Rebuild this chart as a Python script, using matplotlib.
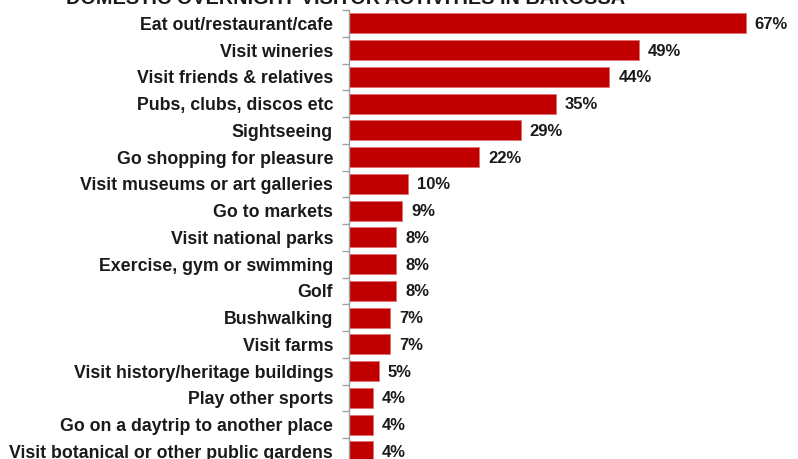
import numpy as np
import matplotlib.pyplot as plt

activities = [
    "Eat out/restaurant/cafe",
    "Visit wineries",
    "Visit friends & relatives",
    "Pubs, clubs, discos etc",
    "Sightseeing",
    "Go shopping for pleasure",
    "Visit museums or art galleries",
    "Go to markets",
    "Visit national parks",
    "Exercise, gym or swimming",
    "Golf",
    "Bushwalking",
    "Visit farms",
    "Visit history/heritage buildings",
    "Play other sports",
    "Go on a daytrip to another place",
    "Visit botanical or other public gardens",
]
share = [67, 49, 44, 35, 29, 22, 10, 9, 8, 8, 8, 7, 7, 5, 4, 4, 4]
title = "DOMESTIC OVERNIGHT VISITOR ACTIVITIES IN BAROSSA"

plt.rcParams['font.family'] = ['Liberation Sans', 'DejaVu Sans']

W, H = 798, 459
fig = plt.figure(figsize=(W / 100, H / 100), dpi=100)

# axes: spine at x=349, top at y=10, rows 26.75 px tall
row = 26.75
top = 10
ax_h = row * len(activities)
ax = fig.add_axes([349 / W, (H - top - ax_h) / H, (793 - 349) / W, ax_h / H])

y = np.arange(len(activities))
ax.barh(y, share, height=0.75, color='#C00000', edgecolor='#E07070', linewidth=0.6)

for yi, v in zip(y, share):
    ax.text(v + 1.5, yi + 0.04, f"{v}%", va='center', ha='left',
            fontsize=12, fontweight='bold', color='#1a1a1a')

ax.set_ylim(len(activities) - 0.5, -0.5)
ax.set_xlim(0, 75)
ax.set_yticks(y)
ax.set_yticklabels(activities, fontsize=12.8, fontweight='bold', color='#1a1a1a')
ax.tick_params(axis='y', which='major', length=0, pad=11.5)
ax.set_yticks(np.arange(len(activities) + 1) - 0.5, minor=True)
ax.tick_params(axis='y', which='minor', length=5, color='#a0a0a0', width=1)
ax.set_xticks([])

for s in ['top', 'right', 'bottom']:
    ax.spines[s].set_visible(False)
ax.spines['left'].set_color('#a0a0a0')
ax.spines['left'].set_linewidth(1)

fig.text(346 / W, 1 - 4 / H, title, ha='center', va='baseline',
         fontsize=14.3, fontweight='bold', color='#1a1a1a')

fig.savefig('out.png', dpi=100)
